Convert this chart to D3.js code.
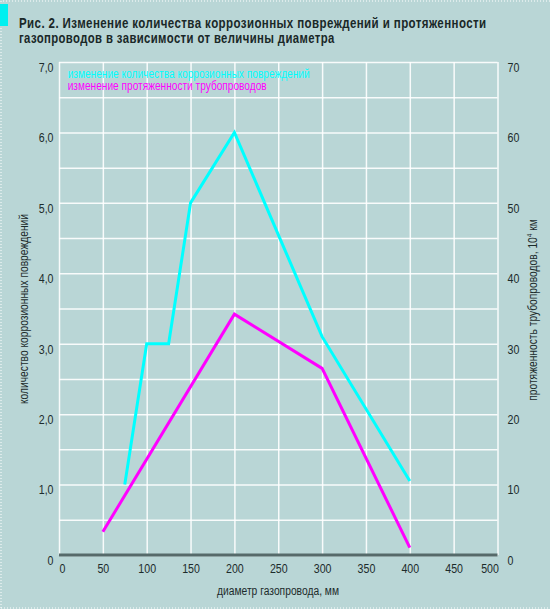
<!DOCTYPE html>
<html>
<head>
<meta charset="utf-8">
<script src="https://cdn.jsdelivr.net/npm/d3@7"></script>
<style>
  body { margin: 0; background: #b9d6d6; }
  svg { display: block; }
  text { font-family: "Liberation Sans", Arial, sans-serif; fill: #1c2b2b; }
</style>
</head>
<body>
<script>
// data
const titleLines = [
  "Рис. 2. Изменение количества коррозионных повреждений и протяженности",
  "газопроводов в зависимости от величины диаметра"
];
const damageDiam = [75, 100, 125, 150, 200, 300, 400];
const damageCount = [1.0, 3.0, 3.0, 5.0, 6.0, 3.1, 1.05];
const pipeDiam = [50, 200, 300, 400];
const pipeLength = [3.3, 34.2, 26.5, 1.05];
const xTicks = [0, 50, 100, 150, 200, 250, 300, 350, 400, 450, 500];
const yLeftTicks = [0, 1, 2, 3, 4, 5, 6, 7];
const yRightTicks = [0, 10, 20, 30, 40, 50, 60, 70];
const legendLabels = ["изменение количества коррозионных повреждений", "изменение протяженности трубопроводов"];
const colors = ["#00ffff", "#ff00ff"];

const W = 550, H = 609;
const margin = {top: 62, right: 52.5, bottom: 54, left: 59};
const width = W - margin.left - margin.right,
      height = H - margin.top - margin.bottom;

// the original uses a narrow typeface; squeeze the glyphs to match
function condense(sel, k) {
  sel.each(function() {
    const w = this.getComputedTextLength();
    d3.select(this)
      .attr("textLength", w * k)
      .attr("lengthAdjust", "spacingAndGlyphs");
  });
}
function fitTo(sel, len) {
  sel.attr("textLength", len).attr("lengthAdjust", "spacingAndGlyphs");
}

const root = d3.select("body").append("svg")
  .attr("width", W)
  .attr("height", H);

// page frame: dotted edge and cyan marker
root.append("path")
  .attr("d", `M1,${H - 1}V1H${W}M1,${H - 1}H${W}`)
  .attr("fill", "none")
  .attr("stroke", "#ffffff")
  .attr("stroke-width", 1)
  .attr("stroke-dasharray", "1,2");
root.append("rect")
  .attr("x", 0).attr("y", 4)
  .attr("width", 8).attr("height", 22)
  .attr("fill", "#00f0f0");

// title, squeezed horizontally with a transform
root.selectAll(".title")
  .data(titleLines)
  .join("text")
  .attr("class", "title")
  .attr("font-size", 14.5)
  .attr("font-weight", "bold")
  .attr("letter-spacing", 0.5)
  .style("fill", "#1a2828")
  .text(d => d)
  .each(function(d, i) {
    const k = [468, 316][i] / this.getComputedTextLength();
    d3.select(this).attr("transform", `translate(19,${27.5 + i * 15.5}) scale(${k},1)`);
  });

const svg = root.append("g")
  .attr("transform", `translate(${margin.left},${margin.top})`);

const x = d3.scaleLinear().domain([0, 500]).range([0, width]);
const yL = d3.scaleLinear().domain([0, 7]).range([height, 0]);
const yR = d3.scaleLinear().domain([0, 70]).range([height, 0]);

// grid
const gridX = svg.append("g")
  .call(d3.axisBottom(x).tickValues(xTicks).tickSize(height).tickFormat(""));
const gridY = svg.append("g")
  .call(d3.axisLeft(yL).tickValues(d3.range(0, 7.01, 0.5)).tickSize(-width).tickFormat(""));
[gridX, gridY].forEach(g => {
  g.select(".domain").remove();
  g.selectAll(".tick line")
    .attr("stroke", "#ffffff")
    .attr("stroke-opacity", 0.9)
    .attr("stroke-width", 1.5);
});

// tick labels
const xAxis = svg.append("g")
  .attr("transform", `translate(0,${height})`)
  .call(d3.axisBottom(x).tickValues(xTicks).tickSize(0).tickPadding(9));
xAxis.select(".domain").remove();
xAxis.selectAll(".tick text")
  .attr("font-size", 12.5)
  .attr("fill", "#1c2b2b")
  .attr("dx", d => d === 0 ? 3 : d === 500 ? -8 : 0)
  .call(condense, 0.85);

const yAxisL = svg.append("g")
  .call(d3.axisLeft(yL).tickValues(yLeftTicks).tickSize(0).tickPadding(5.5)
    .tickFormat(d => d === 0 ? "0" : d3.format(".1f")(d).replace(".", ",")));
yAxisL.select(".domain").remove();
yAxisL.selectAll(".tick text")
  .attr("font-size", 12.5)
  .attr("fill", "#1c2b2b")
  .attr("dy", "0.75em")
  .call(condense, 0.85);

const yAxisR = svg.append("g")
  .attr("transform", `translate(${width},0)`)
  .call(d3.axisRight(yR).tickValues(yRightTicks).tickSize(0).tickPadding(10));
yAxisR.select(".domain").remove();
yAxisR.selectAll(".tick text")
  .attr("font-size", 12.5)
  .attr("fill", "#1c2b2b")
  .attr("dy", "0.75em")
  .call(condense, 0.85);

// base line
svg.append("line")
  .attr("x1", 0).attr("x2", width)
  .attr("y1", height).attr("y2", height)
  .attr("stroke", "#566a6a")
  .attr("stroke-width", 3);

// series
const damageLine = d3.line()
  .x((d, i) => x(damageDiam[i]))
  .y(d => yL(d));
const pipeLine = d3.line()
  .x((d, i) => x(pipeDiam[i]))
  .y(d => yR(d));

svg.append("path")
  .datum(pipeLength)
  .attr("d", pipeLine)
  .attr("fill", "none")
  .attr("stroke", colors[1])
  .attr("stroke-width", 3);
svg.append("path")
  .datum(damageCount)
  .attr("d", damageLine)
  .attr("fill", "none")
  .attr("stroke", colors[0])
  .attr("stroke-width", 3);

// legend
svg.selectAll(".legend")
  .data(legendLabels)
  .join("text")
  .attr("class", "legend")
  .attr("x", 8.7)
  .attr("y", (d, i) => 15.5 + i * 12.5)
  .attr("font-size", 12.5)
  .style("fill", (d, i) => colors[i])
  .text(d => d)
  .each(function(d, i) { fitTo(d3.select(this), [242, 199][i]); });

// axis titles
root.append("text")
  .attr("transform", `translate(28,309) rotate(-90)`)
  .attr("text-anchor", "middle")
  .attr("font-size", 12.5)
  .text("количество коррозионных повреждений")
  .call(fitTo, 190);

const rt = root.append("text")
  .attr("transform", `translate(537,310) rotate(-90)`)
  .attr("text-anchor", "middle")
  .attr("font-size", 12.5);
rt.append("tspan").text("протяженность трубопроводов, 10");
rt.append("tspan").attr("font-size", 8).attr("dy", -5).text("4");
rt.append("tspan").attr("dy", 5).text(" км");
rt.call(condense, 0.82);

root.append("text")
  .attr("x", 278)
  .attr("y", 595)
  .attr("text-anchor", "middle")
  .attr("font-size", 12.5)
  .text("диаметр газопровода, мм")
  .call(fitTo, 122);
</script>
</body>
</html>
